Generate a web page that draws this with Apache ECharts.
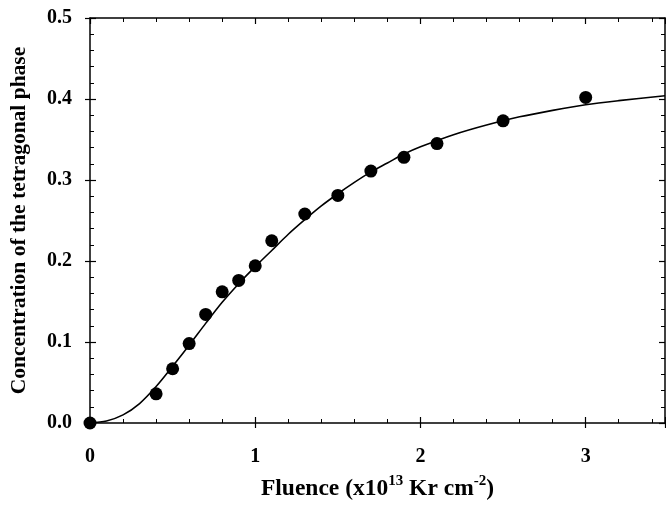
<!DOCTYPE html>
<html>
<head>
<meta charset="utf-8">
<script src="https://cdn.jsdelivr.net/npm/echarts@6/dist/echarts.min.js"></script>
<style>html,body{margin:0;padding:0;background:#fff}#c{width:666px;height:506px}</style>
</head>
<body>
<div id="c"></div>
<script>
// Measured points
var pointX = [0, 0.4, 0.5, 0.6, 0.7, 0.8, 0.9, 1.0, 1.1, 1.3, 1.5, 1.7, 1.9, 2.1, 2.5, 3.0];
var pointY = [0.0, 0.036, 0.067, 0.098, 0.134, 0.162, 0.176, 0.194, 0.225, 0.258, 0.281, 0.311, 0.328, 0.345, 0.373, 0.402];
// Fitted curve
var curveX = [0, 0.1, 0.2, 0.3, 0.4, 0.5, 0.6, 0.7, 0.8, 0.9, 1.0, 1.1, 1.2, 1.3, 1.4, 1.5, 1.6, 1.7, 1.8, 1.9, 2.0, 2.2, 2.4, 2.6, 2.8, 3.0, 3.2, 3.48];
var curveY = [0, 0.0025, 0.010, 0.024, 0.045, 0.070, 0.096, 0.123, 0.149, 0.172, 0.193, 0.213, 0.233, 0.251, 0.268, 0.283, 0.297, 0.310, 0.321, 0.332, 0.341, 0.356, 0.368, 0.378, 0.386, 0.393, 0.398, 0.404];
var xTickLabels = ['0', '1', '2', '3'];
var yTickLabels = ['0.0', '0.1', '0.2', '0.3', '0.4', '0.5'];

var FONT = 'Liberation Serif';
var xMin = 0, xMax = 3.48, yMin = 0, yMax = 0.5;
function zip(a, b) { return a.map(function (v, i) { return [v, b[i]]; }); }

var lineStyle = { color: '#000', width: 1.5 };
function xAx(pos, opts) {
  return Object.assign({
    type: 'value', position: pos, min: xMin, max: xMax, interval: 1,
    axisLine: { show: true, onZero: false, lineStyle: lineStyle },
    splitLine: { show: false },
    axisTick: { show: true, inside: true, length: 6, lineStyle: { color: '#000', width: 1.2 } },
    minorTick: { show: true, splitNumber: 5, length: 4, lineStyle: { color: '#000', width: 1 } },
    axisLabel: { show: false }
  }, opts);
}
function yAx(pos, opts) {
  return Object.assign({
    type: 'value', position: pos, min: yMin, max: yMax, interval: 0.1,
    axisLine: { show: true, onZero: false, lineStyle: lineStyle },
    splitLine: { show: false },
    axisTick: { show: true, inside: true, length: 6, lineStyle: { color: '#000', width: 1.2 } },
    minorTick: { show: true, splitNumber: 5, length: 4, lineStyle: { color: '#000', width: 1 } },
    axisLabel: { show: false }
  }, opts);
}

var chart = echarts.init(document.getElementById('c'), null, { renderer: 'canvas' });
chart.setOption({
  animation: false,
  backgroundColor: '#fff',
  grid: { left: 90, top: 18, right: 1, bottom: 83, containLabel: false, outerBoundsMode: 'none' },
  xAxis: [
    xAx('bottom', {
      name: '{m|Fluence (x10}{sup|13}{m| Kr cm}{sup|-2}{m|)}',
      nameLocation: 'middle', nameGap: 52,
      nameTextStyle: {
        fontFamily: FONT, fontWeight: 'bold', fontSize: 23.5, color: '#000',
        rich: {
          m: { fontFamily: FONT, fontWeight: 'bold', fontSize: 23.5, color: '#000', lineHeight: 26, verticalAlign: 'bottom' },
          sup: { fontFamily: FONT, fontWeight: 'bold', fontSize: 15, color: '#000', lineHeight: 16, verticalAlign: 'bottom', padding: [0, 0, 12, 0] }
        }
      },
      axisLabel: {
        show: true, margin: 24, fontFamily: FONT, fontWeight: 'bold', fontSize: 20, color: '#000',
        formatter: function (v) { var i = Math.round(v); return Math.abs(v - i) < 1e-9 ? (xTickLabels[i] || '') : ''; }
      }
    }),
    xAx('bottom', { axisLine: { show: false }, axisTick: { show: true, inside: false, length: 5, lineStyle: { color: '#000', width: 1.2 } }, minorTick: { show: false } }),
    xAx('top', {})
  ],
  yAxis: [
    yAx('left', {
      name: 'Concentration of the tetragonal phase',
      nameLocation: 'middle', nameGap: 60, nameRotate: 90,
      nameTextStyle: { fontFamily: FONT, fontWeight: 'bold', fontSize: 21.5, color: '#000' },
      axisLabel: {
        show: true, margin: 18, fontFamily: FONT, fontWeight: 'bold', fontSize: 20, color: '#000',
        formatter: function (v) { var i = Math.round(v * 10); return Math.abs(v * 10 - i) < 1e-6 ? (yTickLabels[i] || '') : ''; }
      }
    }),
    yAx('left', { axisLine: { show: false }, axisTick: { show: true, inside: false, length: 5, lineStyle: { color: '#000', width: 1.2 } }, minorTick: { show: false } }),
    yAx('right', {})
  ],
  series: [
    {
      type: 'line', xAxisIndex: 0, yAxisIndex: 0,
      data: zip(curveX, curveY), smooth: 0.3, showSymbol: false,
      lineStyle: { color: '#000', width: 1.6 }, z: 3, clip: true
    },
    {
      type: 'scatter', xAxisIndex: 0, yAxisIndex: 0,
      data: zip(pointX, pointY), symbol: 'circle', symbolSize: 13,
      itemStyle: { color: '#000', opacity: 1 }, z: 4, clip: false
    }
  ]
});
</script>
</body>
</html>
